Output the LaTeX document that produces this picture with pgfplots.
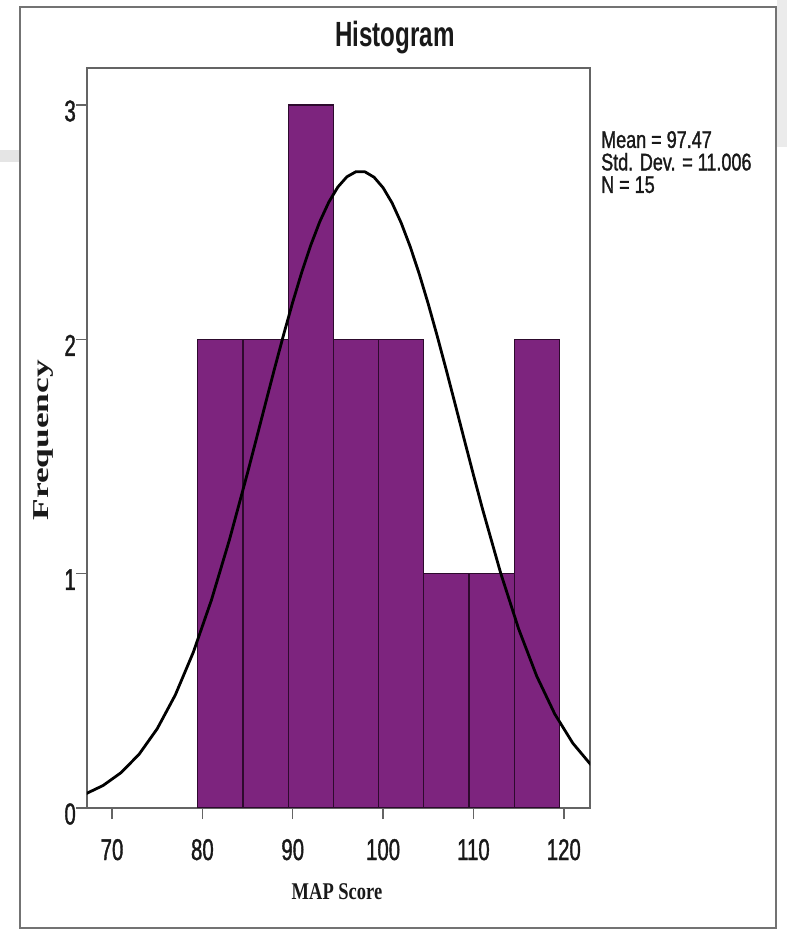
\documentclass[border=0pt]{standalone}
\usepackage{pgfplots}
\pgfplotsset{compat=1.18}
\usepackage{fontspec}
\setmainfont{Liberation Sans}
\newfontfamily\titlefont[FakeStretch=0.69]{Liberation Sans}
\newfontfamily\tickfont[FakeStretch=0.68,FakeBold=1.2]{Liberation Sans}
\newfontfamily\statfont[FakeStretch=0.75,FakeBold=1.2]{Liberation Sans}
\newfontfamily\xlabfont[FakeStretch=0.77]{Liberation Serif}
\newfontfamily\ylabfont[FakeStretch=1.56]{Liberation Serif}
\definecolor{barpurple}{RGB}{125,36,126}
\definecolor{baredge}{RGB}{45,10,45}
\definecolor{framegray}{RGB}{100,100,100}
\definecolor{textdark}{RGB}{25,25,25}

\begin{document}
\begin{tikzpicture}
\useasboundingbox (0,0) rectangle (787pt,930pt);
\fill[white] (0,0) rectangle (787pt,930pt);
\fill[black!10] (0,768pt) rectangle (20pt,780pt);
\fill[black!8] (777pt,783pt) rectangle (787pt,930pt);
\draw[black!55, line width=1.5pt] (20pt,2pt) rectangle (776pt,923pt);
\begin{axis}[
  scale only axis, width=503pt, height=740pt,
  at={(87pt,122pt)}, anchor=south west,
  xmin=67.23, xmax=122.9, ymin=0, ymax=3.158,
  clip mode=individual,
  xtick={70,80,90,100,110,120}, ytick={0,1,2,3},
  xtick pos=bottom, ytick pos=left,
  tick align=outside, major tick length=11pt,
  tick style={framegray, line width=1.5pt},
  axis line style={framegray, line width=1.5pt},
  /pgf/number format/assume math mode=true,
  ticklabel style={font=\tickfont\fontsize{30}{30}\selectfont, text=textdark},
  xticklabel style={anchor=base, inner sep=0pt, yshift=-41pt},
  yticklabel style={anchor=east, inner sep=0pt, yshift=-6pt},
  title={Histogram},
  title style={at={(axis description cs:0.612,1.0216)}, anchor=base, inner sep=0pt,
    font=\titlefont\bfseries\fontsize{35}{35}\selectfont, text=textdark},
  xlabel={MAP Score},
  xlabel style={at={(axis description cs:0.497,-0.1243)}, anchor=base, inner sep=0pt,
    font=\xlabfont\bfseries\fontsize{24}{24}\selectfont, text=textdark},
  ylabel={Frequency},
  ylabel style={at={(axis description cs:-0.0775,0.497)}, anchor=base, inner sep=0pt,
    font=\ylabfont\bfseries\fontsize{22.7}{22.7}\selectfont, text=textdark},
]
\addplot[ybar interval, fill=barpurple, draw=baredge, line width=1.2pt]
  coordinates {(79.5,2)(84.5,2)(89.5,3)(94.5,2)(99.5,2)(104.5,1)(109.5,1)(114.5,2)(119.5,2)};
\addplot[black, line width=2.8pt, line join=round, mark=none] coordinates {
  (67,0.0589)(69,0.0958)(71,0.1508)(73,0.2295)(75,0.3382)(77,0.4821)(79,0.6649)
  (81,0.8872)(83,1.1452)(85,1.4305)(86,1.5790)(87,1.7288)(88,1.8771)(89,2.0213)
  (90,2.1588)(91,2.2867)(92,2.4022)(93,2.5028)(94,2.5862)(95,2.6504)(96,2.6939)
  (97,2.7155)(98,2.7148)(99,2.6919)(100,2.6471)(101,2.5818)(102,2.4972)(103,2.3957)
  (104,2.2794)(105,2.1508)(106,2.0128)(107,1.8683)(108,1.7198)(109,1.5700)(110,1.4217)
  (111,1.2767)(113,1.0044)(115,0.7645)(117,0.5631)
  (119,0.4011)(121,0.2765)(123,0.1844)};
\node[anchor=north west, inner sep=0pt, align=left, text=textdark,
  font=\statfont\fontsize{24}{22.5}\selectfont]
  at (axis description cs:1.0219,0.915) {Mean = 97.47\\Std. Dev. = 11.006\\N = 15};
\end{axis}
\end{tikzpicture}
\end{document}
